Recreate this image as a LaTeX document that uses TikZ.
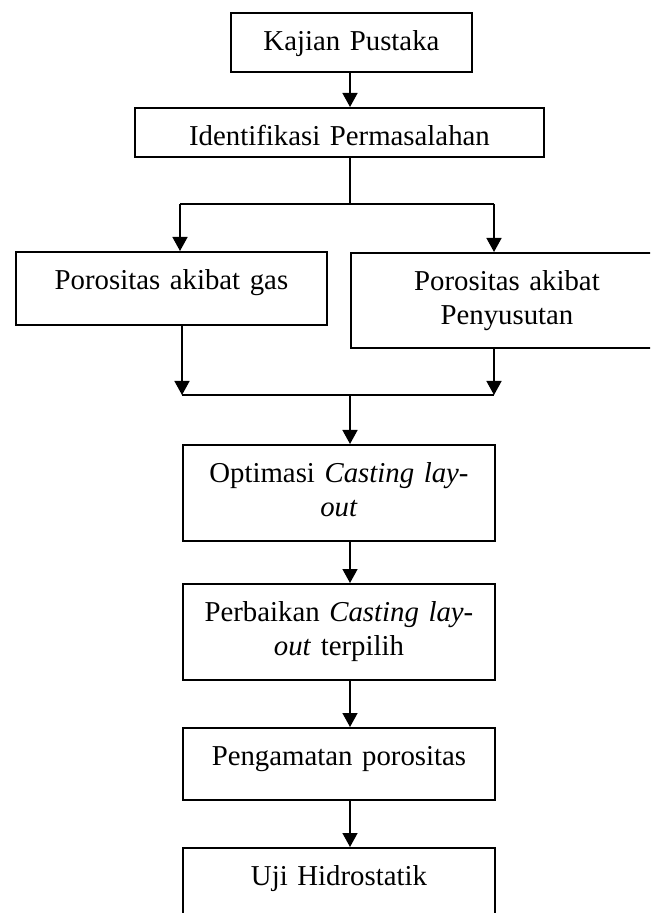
\documentclass[tikz,border=0pt]{standalone}
\usepackage{fontspec}
\setmainfont{Liberation Serif}
\usepackage{tikz}
\usetikzlibrary{arrows.meta,positioning}

\begin{document}
\begin{tikzpicture}[x=0.5pt, y=-0.5pt, >={Triangle[length=7pt,width=7.5pt]},
  every node/.style={font=\fontsize{14.4}{16.8}\selectfont},
  stepbox/.style={draw, line width=0.95pt, anchor=north west, align=center, inner xsep=0pt, inner ysep=0pt, text height=19pt},
  link/.style={line width=0.75pt}]
  \clip (0,0) rectangle (650,913);

  \node[stepbox, text width=120.5pt, text depth=10.5pt] (kajian) at (230,12) {Kajian Pustaka};
  \node[stepbox, text width=204.5pt, text depth=5.5pt] (ident) at (134,107) {Identifikasi Permasalahan};
  \node[stepbox, text width=155.5pt, text depth=17.5pt] (gas) at (15,251) {Porositas akibat gas};
  \node[stepbox, text width=156pt, text depth=28.5pt] (susut) at (350,252) {Porositas akibat\\Penyusutan};
  \node[stepbox, text width=156pt, text depth=29pt] (optim) at (182,444) {Optimasi \textit{Casting lay-}\\\textit{out}};
  \node[stepbox, text width=156pt, text depth=29pt] (perbaikan) at (182,583) {Perbaikan \textit{Casting lay-}\\\textit{out} terpilih};
  \node[stepbox, text width=156pt, text depth=17pt] (amat) at (182,727) {Pengamatan porositas};
  \node[stepbox, text width=156pt, text depth=20pt] (uji) at (182,847) {Uji Hidrostatik};

  \coordinate (fork) at (350,204);
  \coordinate (forkL) at (180,204);
  \coordinate (forkR) at (494,204);
  \coordinate (join) at (350,395);
  \coordinate (joinL) at (182,395);
  \coordinate (joinR) at (494,395);

  \draw[link, ->] (kajian.south -| fork) -- (fork |- ident.north);
  \draw[link] (ident.south -| fork) -- (fork);
  \draw[link] (forkL) -- (forkR);
  \draw[link, ->] (forkL) -- (forkL |- gas.north);
  \draw[link, ->] (forkR) -- (forkR |- susut.north);
  \draw[link, ->] (gas.south -| joinL) -- (joinL);
  \draw[link, ->] (susut.south -| joinR) -- (joinR);
  \draw[link] (joinL) -- (joinR);
  \draw[link, ->] (join) -- (join |- optim.north);
  \draw[link, ->] (optim.south -| join) -- (join |- perbaikan.north);
  \draw[link, ->] (perbaikan.south -| join) -- (join |- amat.north);
  \draw[link, ->] (amat.south -| join) -- (join |- uji.north);
\end{tikzpicture}
\end{document}
